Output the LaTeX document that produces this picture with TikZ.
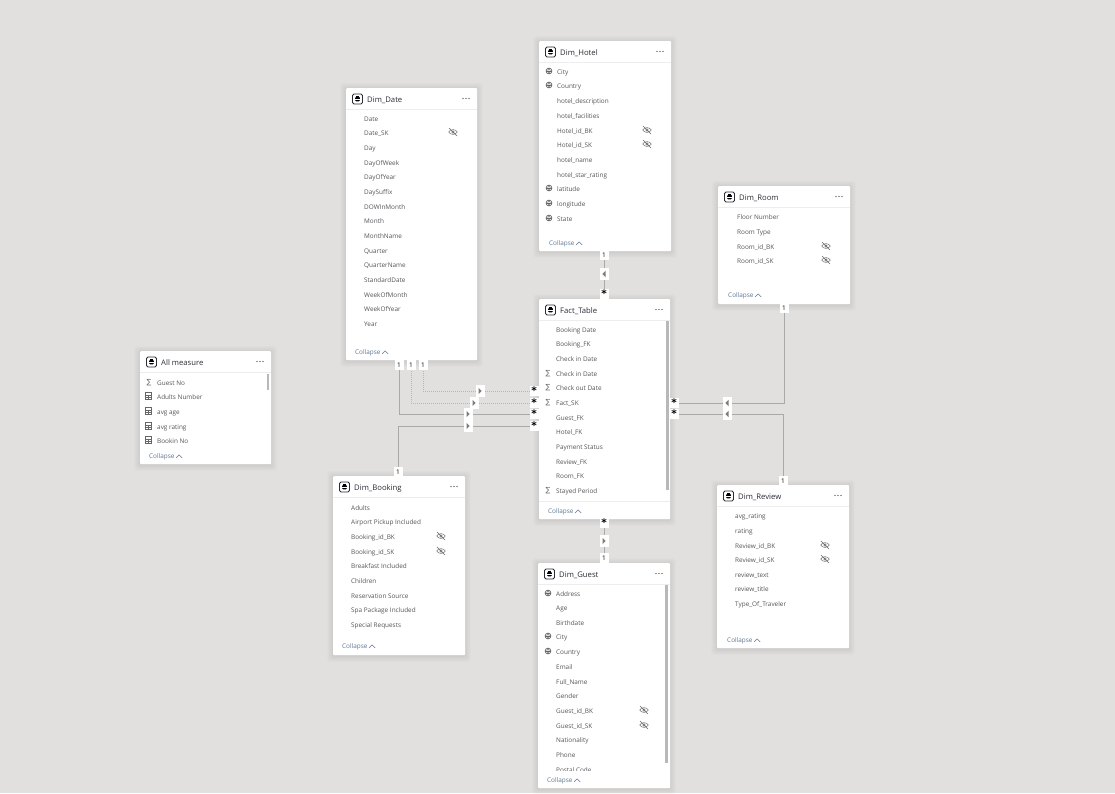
\documentclass[tikz,border=0pt]{standalone}
\usepackage{fontspec}
\setmainfont{Open Sans}
\newfontfamily\starfont{DejaVu Sans}
\newfontfamily\sigfont{DejaVu Sans}
\pgfdeclarelayer{bgl}\pgfdeclarelayer{conn}\pgfsetlayers{bgl,conn,main}
\definecolor{canvas}{HTML}{E1E0DE}
\definecolor{fieldc}{HTML}{55555A}
\definecolor{titlec}{HTML}{2C2D36}
\definecolor{linkc}{HTML}{A9A9A9}
\definecolor{collc}{HTML}{5F7696}
\definecolor{iconc}{HTML}{666666}
\definecolor{scrollc}{HTML}{B8B8B8}
\tikzset{
  cardbox/.style={fill=white,draw=none,rounded corners=1pt},
  field/.style={inner sep=0pt,anchor=west,yshift=-1.4pt,text=fieldc,font=\fontsize{6.4}{7}\selectfont,text height=5pt,text depth=1.5pt},
  cardtitle/.style={inner sep=0pt,anchor=west,yshift=-1pt,text=titlec,font=\fontsize{7.7}{9}\selectfont,text height=6pt,text depth=2pt},
  collapse/.style={inner sep=0pt,anchor=west,yshift=-1.4pt,text=collc,font=\fontsize{6.4}{7}\selectfont,text height=5pt,text depth=1.5pt},
  tag/.style={fill=white,inner sep=0pt,minimum width=9pt,minimum height=10pt,text=black,font=\fontsize{6.5}{7}\selectfont},
  startag/.style={fill=white,inner sep=0pt,minimum width=9pt,minimum height=10pt,text=black,font=\starfont\bfseries\fontsize{10.5}{11}\selectfont},
  flag/.style={fill=white,inner sep=0pt,minimum width=9pt,minimum height=12pt},
  rel/.style={draw=linkc,line width=1pt},
  reldot/.style={draw=linkc!85,line width=1pt,dash pattern=on 1pt off 1pt},
  ico/.style={draw=iconc,line width=.45pt},
}
\newcommand\manymark{\raisebox{-1.6pt}{*}}
\newcommand\card[6]{% name x1 y1 x2 y2 title
  \foreach \ss in {6,5,4,3,2,1}{\fill[black,opacity=.012,rounded corners=3pt] (#2-\ss,#3-\ss+1) rectangle (#4+\ss,#5+\ss+1);}
  \node[cardbox,anchor=north west,minimum width=#4pt-#2pt,minimum height=#5pt-#3pt,inner sep=0pt] (#1) at (#2,#3) {};
  \draw[draw=black!7,line width=.5pt] (#2,#3+21) -- (#4,#3+21);
  \draw[draw=titlec,line width=.8pt,rounded corners=1.5pt] (#2+6.5,#3+6) rectangle (#2+16.5,#3+16);
  \fill[black,rounded corners=1pt] (#2+9.2,#3+8.8) rectangle (#2+13.8,#3+13.4);
  \fill[black] (#2+10.3,#3+7.6) rectangle (#2+12.7,#3+8.8);
  \draw[white,line width=.4pt] (#2+9.2,#3+11) -- (#2+13.8,#3+11);
  \node[cardtitle] (#1-title) at (#2+21,#3+11) {#6};
  \foreach \dd in {-3,0,3}{\fill[titlec] (#4-11+\dd,#3+10.5) circle (.7);}
}
\newcommand\icn[2]{}
\newcommand\ics[2]{\node[inner sep=0pt,text=iconc,font=\sigfont\fontsize{7}{7}\selectfont] at (#1-8,#2+1) {∑};}
\newcommand\icg[2]{\begin{scope}[shift={(#1-8,#2)}]
  \draw[ico,line width=.7pt] (0,0) circle (2.9);
  \draw[ico] (-2.9,0) -- (2.9,0);
  \draw[ico] (0,-2.9) .. controls (-1.8,-1) and (-1.8,1) .. (0,2.9);
  \draw[ico] (0,-2.9) .. controls (1.8,-1) and (1.8,1) .. (0,2.9);
\end{scope}}
\newcommand\icc[2]{\begin{scope}[shift={(#1-9,#2)}]
  \draw[ico,line width=.7pt] (-3,-3.5) rectangle (3,3.5);
  \draw[ico] (-3,-1.2) -- (3,-1.2) (-3,1) -- (3,1) (0,-1.2) -- (0,3.5);
\end{scope}}
\newcommand\ice[2]{\begin{scope}[shift={(\eyex,#2)}]
  \draw[ico] (-4.4,0) .. controls (-2,-3.2) and (2,-3.2) .. (4.4,0) .. controls (2,3.2) and (-2,3.2) .. (-4.4,0);
  \draw[ico] (0,0) circle (1.3);
  \draw[ico] (-4,-4) -- (4,4);
\end{scope}}
\newcommand\fields[4]{% card x eyex list
  \def\eyex{#3}
  \foreach \yy/\kd/\txt [count=\ii] in {#4}{
    \node[field] (#1-f\ii) at (#2,\yy) {\txt};
    \csname ic\kd\endcsname{#2}{\yy}
  }
}
\newcommand\foot[3]{% card x y
  \node[collapse] (#1-col) at (#2,#3) {Collapse};
  \draw[collc,line width=.5pt,shift={(#1-col.east)}] (1.5,1.5) -- (4.5,-1.5) -- (7.5,1.5);
}
\newcommand\flagR[3]{\node[flag] (#1) at (#2,#3) {};\fill[iconc!85] (#2-1.5,#3-3.2) -- (#2+1.6,#3) -- (#2-1.5,#3+3.2) -- cycle;}
\newcommand\flagL[3]{\node[flag] (#1) at (#2,#3) {};\fill[iconc!85] (#2+1.5,#3-3.2) -- (#2-1.6,#3) -- (#2+1.5,#3+3.2) -- cycle;}
\begin{document}
\begin{tikzpicture}[x=1pt,y=-1pt]
\begin{pgfonlayer}{bgl}
\fill[canvas] (0,0) rectangle (1115,793);
\end{pgfonlayer}
\useasboundingbox (0,0) rectangle (1115,793);

% Dim_Date
\card{date}{346}{88}{477}{360}{Dim\_Date}
\fields{date}{364}{453}{118/n/Date,132/e/Date\_SK,147/n/Day,162/n/DayOfWeek,176/n/DayOfYear,191/n/DaySuffix,206/n/DOWInMonth,220/n/Month,235/n/MonthName,250/n/Quarter,264/n/QuarterName,279/n/StandardDate,294/n/WeekOfMonth,308/n/WeekOfYear,323/n/Year}
\foot{date}{355}{351}

% Dim_Hotel
\card{hotel}{539}{41}{671}{251}{Dim\_Hotel}
\fields{hotel}{557}{647}{71/g/City,85/g/Country,100/n/hotel\_description,115/n/hotel\_facilities,130/e/Hotel\_id\_BK,144/e/Hotel\_id\_SK,159/n/hotel\_name,174/n/hotel\_star\_rating,188/g/latitude,203/g/longitude,218/g/State}
\foot{hotel}{549}{242}

% Dim_Room
\card{room}{718}{186}{850}{304}{Dim\_Room}
\fields{room}{737}{826}{216/n/Floor Number,231/n/Room Type,246/e/Room\_id\_BK,260/e/Room\_id\_SK}
\foot{room}{728}{294}

% Fact_Table
\card{fact}{539}{299}{670}{519}{Fact\_Table}
\fields{fact}{556}{0}{329/n/Booking Date,343/n/Booking\_FK,358/n/Check in Date,373/s/Check in Date,387/s/Check out Date,402/s/Fact\_SK,417/n/Guest\_FK,431/n/Hotel\_FK,446/n/Payment Status,461/n/Review\_FK,475/n/Room\_FK,490/s/Stayed Period}
\draw[black!7,line width=.5pt] (539,501) -- (670,501);
\fill[scrollc] (666,321) rectangle (668.5,490);
\foot{fact}{548}{510}

% All measure
\card{meas}{140}{351}{271}{464}{All measure}
\fields{meas}{157}{0}{382/s/Guest No,396/c/Adults Number,411/c/avg age,426/c/avg rating,440/c/Bookin No}
\fill[scrollc] (266.5,374) rectangle (269,390);
\foot{meas}{149}{455}

% Dim_Booking
\card{book}{333}{476}{465}{655}{Dim\_Booking}
\fields{book}{351}{441}{507/n/Adults,521/n/Airport Pickup Included,536/e/Booking\_id\_BK,551/e/Booking\_id\_SK,565/n/Breakfast Included,580/n/Children,595/n/Reservation Source,609/n/Spa Package Included,624/n/Special Requests}
\foot{book}{342}{645}

% Dim_Review
\card{review}{717}{485}{849}{648}{Dim\_Review}
\fields{review}{735}{825}{515/n/avg\_rating,530/n/rating,545/e/Review\_id\_BK,559/e/Review\_id\_SK,574/n/review\_text,588/n/review\_title,603/n/Type\_Of\_Traveler}
\foot{review}{727}{639}

% Dim_Guest
\card{guest}{538}{563}{670}{788}{Dim\_Guest}
\fields{guest}{556}{644}{593/g/Address,607/n/Age,622/n/Birthdate,636/g/City,651/g/Country,666/n/Email,681/n/Full\_Name,695/n/Gender,710/e/Guest\_id\_BK,725/e/Guest\_id\_SK,739/n/Nationality,754/n/Phone,769/n/Postal Code}
\fill[white] (540,771) rectangle (664,787);
\fill[scrollc] (665,585) rectangle (667.5,763);
\foot{guest}{547}{779}

% cardinality tags
\node[tag] (oneHotel) at (604,255) {1};
\node[startag] (manyHotel) at (604,294) {\manymark};
\node[startag] (manyGuest) at (604,523) {\manymark};
\node[tag] (oneGuest) at (604,558) {1};
\node[tag] (oneDateA) at (399,365) {1};
\node[tag] (oneDateB) at (411,365) {1};
\node[tag] (oneDateC) at (423,365) {1};
\node[tag] (oneBook) at (398,472) {1};
\node[startag] (manyC) at (534,391) {\manymark};
\node[startag] (manyB) at (534,403) {\manymark};
\node[startag] (manyA) at (534,414) {\manymark};
\node[startag] (manyD) at (534,426) {\manymark};
\node[startag] (manyRoom) at (674,403) {\manymark};
\node[startag] (manyReview) at (674,414) {\manymark};
\node[tag] (oneRoom) at (784,308) {1};
\node[tag] (oneReview) at (783,481) {1};

% direction flags
\flagL{flagHotel}{604}{274}
\flagR{flagGuest}{604}{541}
\flagR{flagC}{480}{391}
\flagR{flagB}{474}{403}
\flagR{flagA}{468}{414}
\flagR{flagD}{468}{426}
\flagL{flagRoom}{727}{403}
\flagL{flagReview}{727}{414}

% connectors
\begin{pgfonlayer}{conn}
\draw[rel] (oneHotel.center) -- (manyHotel.center);
\draw[rel] (manyGuest.center) -- (oneGuest.center);
\draw[reldot] (oneDateC.center) |- (manyC.center);
\draw[reldot] (oneDateB.center) |- (manyB.center);
\draw[rel] (oneDateA.center) |- (manyA.center);
\draw[rel] (oneBook.center) |- (manyD.center);
\draw[rel] (manyRoom.center) -| (oneRoom.center);
\draw[rel] (manyReview.center) -| (oneReview.center);
\end{pgfonlayer}
\end{tikzpicture}
\end{document}
